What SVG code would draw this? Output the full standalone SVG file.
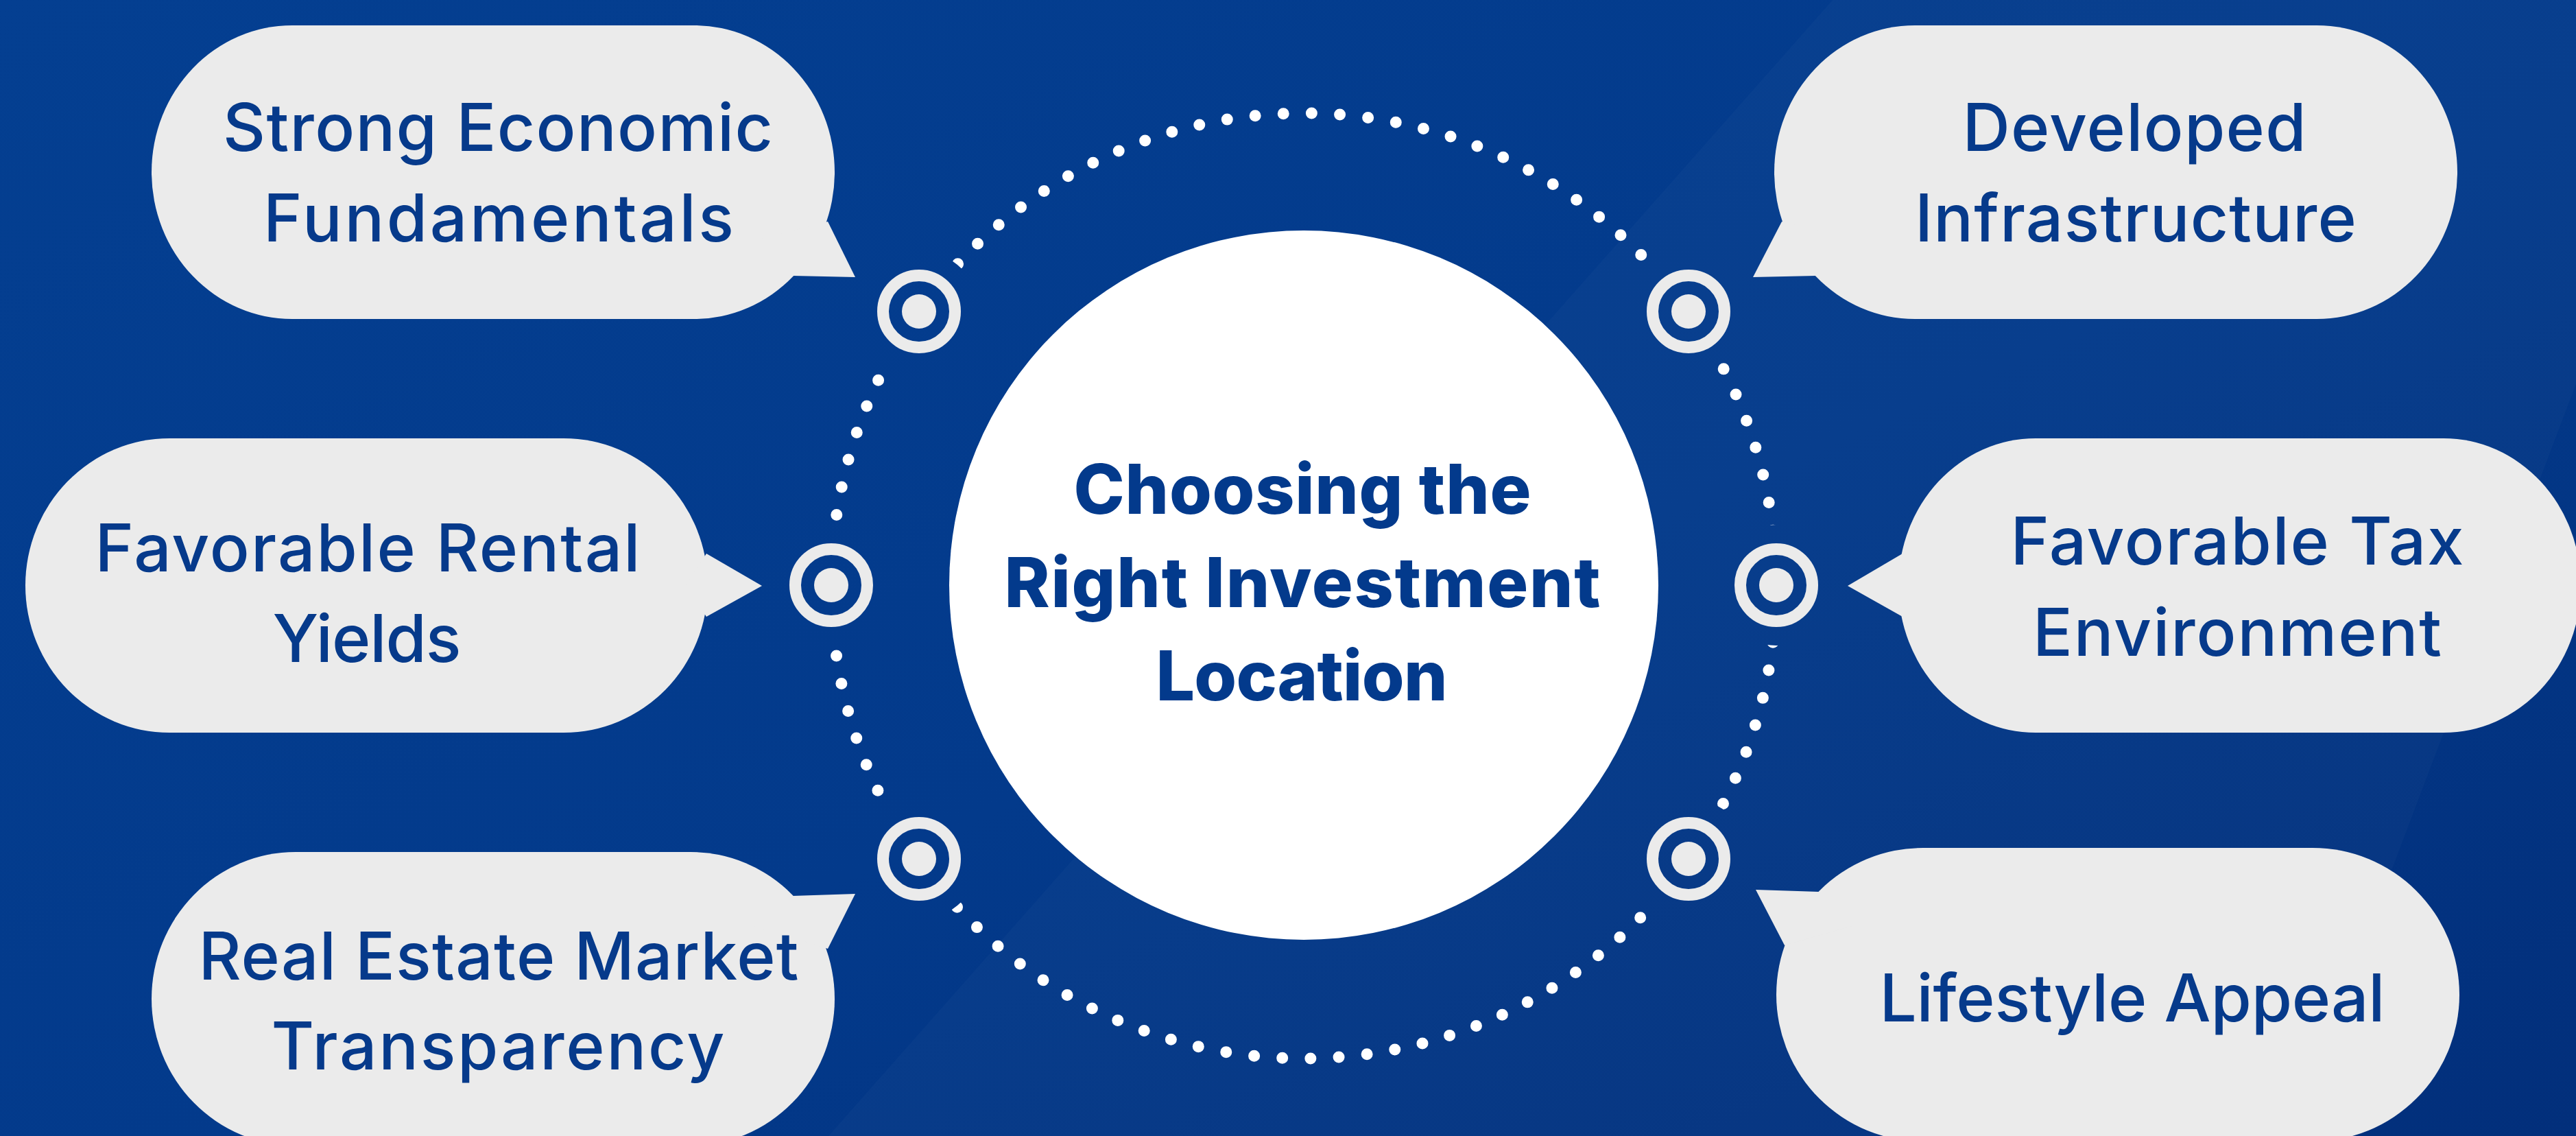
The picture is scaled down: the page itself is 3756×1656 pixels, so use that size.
<svg xmlns="http://www.w3.org/2000/svg" width="3756" height="1656" viewBox="0 0 3756 1656">
  <defs>
    <linearGradient id="bg" x1="0" y1="0" x2="1" y2="1">
      <stop offset="0" stop-color="#043f91"/>
      <stop offset="0.55" stop-color="#033a8b"/>
      <stop offset="1" stop-color="#022f7b"/>
    </linearGradient>
    <mask id="dotmask" maskUnits="userSpaceOnUse" x="0" y="0" width="3756" height="1656">
      <rect x="0" y="0" width="3756" height="1656" fill="#fff"/>
      <circle cx="1340" cy="454" r="88" fill="#000"/>
      <circle cx="2462" cy="454" r="88" fill="#000"/>
      <circle cx="1212" cy="853" r="88" fill="#000"/>
      <circle cx="2590" cy="853" r="88" fill="#000"/>
      <circle cx="1340" cy="1252" r="88" fill="#000"/>
      <circle cx="2462" cy="1252" r="88" fill="#000"/>
    </mask>
    <style>
      .bubble { fill: #ebebeb; }
      .lbl { font-family: Inter, "Noto Sans", "Liberation Sans", sans-serif; font-size: 96px; font-weight: 500; fill: #063a8b; text-anchor: middle; }
      .title { font-family: Inter, "Noto Sans", "Liberation Sans", sans-serif; font-size: 100px; font-weight: 800; fill: #033a8c; text-anchor: middle; }
      .ring { fill: none; stroke: #ebebeb; stroke-width: 17; }
      .ringdot { fill: #ebebeb; }
      .dots { fill: none; stroke: #ffffff; stroke-width: 17; stroke-linecap: round; stroke-dasharray: 0 41.24; }
    </style>
  </defs>

  <rect x="0" y="0" width="3756" height="1656" fill="url(#bg)"/>
  <polygon points="2672,0 3756,0 3756,560 3340,1656 1208,1656" fill="#ffffff" opacity="0.025"/>

  <g id="connectors">
    <circle class="dots" cx="1901" cy="854" r="689" mask="url(#dotmask)"/>
    <g id="ring-tl"><circle class="ring" cx="1340" cy="454" r="52.5"/><circle class="ringdot" cx="1340" cy="454" r="25"/></g>
    <g id="ring-tr"><circle class="ring" cx="2462" cy="454" r="52.5"/><circle class="ringdot" cx="2462" cy="454" r="25"/></g>
    <g id="ring-ml"><circle class="ring" cx="1212" cy="853" r="52.5"/><circle class="ringdot" cx="1212" cy="853" r="25"/></g>
    <g id="ring-mr"><circle class="ring" cx="2590" cy="853" r="52.5"/><circle class="ringdot" cx="2590" cy="853" r="25"/></g>
    <g id="ring-bl"><circle class="ring" cx="1340" cy="1252" r="52.5"/><circle class="ringdot" cx="1340" cy="1252" r="25"/></g>
    <g id="ring-br"><circle class="ring" cx="2462" cy="1252" r="52.5"/><circle class="ringdot" cx="2462" cy="1252" r="25"/></g>
  </g>

  <g id="center">
    <circle cx="1901" cy="853" r="517" fill="#ffffff"/>
    <text class="title" x="1899" y="749" textLength="667" lengthAdjust="spacing">Choosing the</text>
    <text class="title" x="1899" y="885" textLength="869" lengthAdjust="spacing">Right Investment</text>
    <text class="title" x="1898" y="1021" textLength="425" lengthAdjust="spacing">Location</text>
  </g>

  <g id="node-economic">
    <rect class="bubble" x="221" y="37" width="996" height="428" rx="205" ry="214"/>
    <polygon class="bubble" points="1207,323 1247,404 1156,402 1100,350"/>
    <text class="lbl" x="726" y="220" textLength="802" lengthAdjust="spacing">Strong Economic</text>
    <text class="lbl" x="727" y="352" textLength="686" lengthAdjust="spacing">Fundamentals</text>
  </g>

  <g id="node-infrastructure">
    <rect class="bubble" x="2587" y="37" width="996" height="428" rx="205" ry="214"/>
    <polygon class="bubble" points="2598,323 2556,404 2648,402 2700,350"/>
    <text class="lbl" x="3112" y="220" textLength="501" lengthAdjust="spacing">Developed</text>
    <text class="lbl" x="3114" y="352" textLength="644" lengthAdjust="spacing">Infrastructure</text>
  </g>

  <g id="node-rental">
    <rect class="bubble" x="37" y="639" width="995" height="429" rx="210" ry="214.5"/>
    <polygon class="bubble" points="1030,807 1111,854 1030,899 1000,854"/>
    <text class="lbl" x="536" y="833" textLength="795" lengthAdjust="spacing">Favorable Rental</text>
    <text class="lbl" x="535" y="965" textLength="275" lengthAdjust="spacing">Yields</text>
  </g>

  <g id="node-tax">
    <rect class="bubble" x="2768" y="639" width="995" height="429" rx="200" ry="214.5"/>
    <polygon class="bubble" points="2774,807 2694,854 2774,899 2800,854"/>
    <text class="lbl" x="3262" y="823" textLength="661" lengthAdjust="spacing">Favorable Tax</text>
    <text class="lbl" x="3262" y="956" textLength="596" lengthAdjust="spacing">Environment</text>
  </g>

  <g id="node-transparency">
    <rect class="bubble" x="221" y="1242" width="996" height="428" rx="210" ry="214"/>
    <polygon class="bubble" points="1156,1306 1247,1303 1207,1383 1100,1350"/>
    <text class="lbl" x="727" y="1428" textLength="875" lengthAdjust="spacing">Real Estate Market</text>
    <text class="lbl" x="726" y="1559" textLength="661" lengthAdjust="spacing">Transparency</text>
  </g>

  <g id="node-lifestyle">
    <rect class="bubble" x="2590" y="1236" width="996" height="428" rx="214" ry="214"/>
    <polygon class="bubble" points="2652,1300 2560,1297 2602,1378 2700,1350"/>
    <text class="lbl" x="3109" y="1489" textLength="737" lengthAdjust="spacing">Lifestyle Appeal</text>
  </g>
</svg>
